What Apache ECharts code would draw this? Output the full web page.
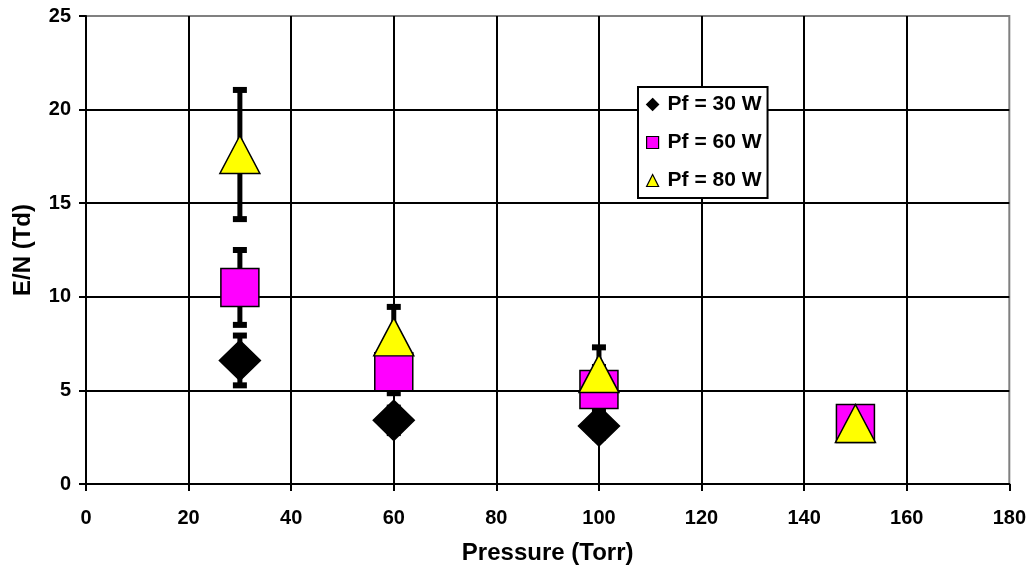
<!DOCTYPE html>
<html>
<head>
<meta charset="utf-8">
<title>E/N vs Pressure</title>
<script src="https://cdn.jsdelivr.net/npm/echarts@6/dist/echarts.min.js"></script>
<style>
  html, body { margin: 0; padding: 0; background: #ffffff; }
  #chart { width: 1029px; height: 571px; }
</style>
</head>
<body>
<div id="chart"></div>
<script>
// Reduced field E/N (Td) versus pressure for three forward powers, with error bars.
const seriesNames = ['Pf = 30 W', 'Pf = 60 W', 'Pf = 80 W'];

const pressure30 = [30, 60, 100];
const en30 = [6.6, 3.4, 3.1];
const err30 = [1.33, 0.68, 0.62];

const pressure60 = [30, 60, 100, 150];
const en60 = [10.5, 6.0, 5.05, 3.23];
const err60 = [2.0, 1.15, 1.2, 0.65];

const pressure80 = [30, 60, 100, 150];
const en80 = [17.6, 7.86, 5.9, 3.23];
const err80 = [3.45, 1.6, 1.4, 0.65];

const xTicks = { min: 0, max: 180, interval: 20 };
const yTicks = { min: 0, max: 25, interval: 5 };

const FONT = "'Liberation Sans', Arial, Helvetica, sans-serif";

function pairs(xs, ys) {
  return xs.map((x, i) => [x, ys[i]]);
}

// Vertical bar with end caps from (y - err) to (y + err)
function errorBars(id, xs, ys, errs) {
  return {
    type: 'custom',
    id: id,
    z: 2,
    silent: true,
    data: xs.map((x, i) => [x, ys[i] - errs[i], ys[i] + errs[i]]),
    encode: { x: 0, y: [1, 2] },
    renderItem: function (params, api) {
      const x = api.value(0);
      const lo = api.coord([x, api.value(1)]);
      const hi = api.coord([x, api.value(2)]);
      const barW = 5, capW = 14, capH = 6;
      return {
        type: 'group',
        children: [
          { type: 'rect', shape: { x: hi[0] - barW / 2, y: hi[1], width: barW, height: lo[1] - hi[1] }, style: { fill: '#000' } },
          { type: 'rect', shape: { x: hi[0] - capW / 2, y: hi[1] - capH / 2, width: capW, height: capH }, style: { fill: '#000' } },
          { type: 'rect', shape: { x: lo[0] - capW / 2, y: lo[1] - capH / 2, width: capW, height: capH }, style: { fill: '#000' } }
        ]
      };
    }
  };
}

function markers(name, xs, ys, symbol, size, color) {
  return {
    type: 'scatter',
    name: name,
    z: 3,
    symbol: symbol,
    symbolSize: size,
    data: pairs(xs, ys),
    itemStyle: { color: color, borderColor: '#000', borderWidth: 1.5, opacity: 1 },
    emphasis: { disabled: true }
  };
}

const chart = echarts.init(document.getElementById('chart'), null, { renderer: 'canvas' });

chart.setOption({
  backgroundColor: '#ffffff',
  animation: false,
  textStyle: { fontFamily: FONT },
  grid: {
    left: 86, right: 19, top: 16, bottom: 87,
    show: true,
    backgroundColor: '#ffffff',
    borderColor: '#808080',
    borderWidth: 2
  },
  legend: {
    orient: 'vertical',
    left: 638,
    top: 87,
    data: seriesNames,
    itemWidth: 12,
    itemHeight: 12,
    itemGap: 17,
    padding: [7, 6, 7, 8],
    backgroundColor: '#ffffff',
    borderColor: '#000',
    borderWidth: 2,
    borderRadius: 0,
    selectedMode: false,
    itemStyle: { borderColor: '#000', borderWidth: 1.2 },
    textStyle: { fontFamily: FONT, fontSize: 21, fontWeight: 'bold', color: '#000', padding: [0, 0, 0, 4] }
  },
  xAxis: {
    type: 'value',
    min: xTicks.min, max: xTicks.max, interval: xTicks.interval,
    name: 'Pressure (Torr)',
    nameLocation: 'middle',
    nameGap: 57,
    nameTextStyle: { fontFamily: FONT, fontSize: 24, fontWeight: 'bold', color: '#000' },
    axisLine: { onZero: false, lineStyle: { color: '#000', width: 2 } },
    axisTick: { show: true, inside: false, length: 7, lineStyle: { color: '#000', width: 2 } },
    axisLabel: { margin: 24, fontFamily: FONT, fontSize: 20, fontWeight: 'bold', color: '#000' },
    splitLine: { show: true, showMinLine: false, showMaxLine: false, lineStyle: { color: '#000', width: 2 } }
  },
  yAxis: {
    type: 'value',
    min: yTicks.min, max: yTicks.max, interval: yTicks.interval,
    name: 'E/N (Td)',
    nameLocation: 'middle',
    nameRotate: 90,
    nameGap: 51,
    nameTextStyle: { fontFamily: FONT, fontSize: 24, fontWeight: 'bold', color: '#000' },
    axisLine: { onZero: false, lineStyle: { color: '#000', width: 2 } },
    axisTick: { show: true, inside: false, length: 7, lineStyle: { color: '#000', width: 2 } },
    axisLabel: { margin: 15, fontFamily: FONT, fontSize: 20, fontWeight: 'bold', color: '#000' },
    splitLine: { show: true, showMinLine: false, showMaxLine: false, lineStyle: { color: '#000', width: 2 } }
  },
  series: [
    errorBars('bars30', pressure30, en30, err30),
    errorBars('bars60', pressure60, en60, err60),
    errorBars('bars80', pressure80, en80, err80),
    markers(seriesNames[0], pressure30, en30, 'diamond', [41, 40], '#000000'),
    markers(seriesNames[1], pressure60, en60, 'rect', [38, 38], '#FF00FF'),
    markers(seriesNames[2], pressure80, en80, 'triangle', [40, 38], '#FFFF00')
  ]
});
</script>
</body>
</html>
